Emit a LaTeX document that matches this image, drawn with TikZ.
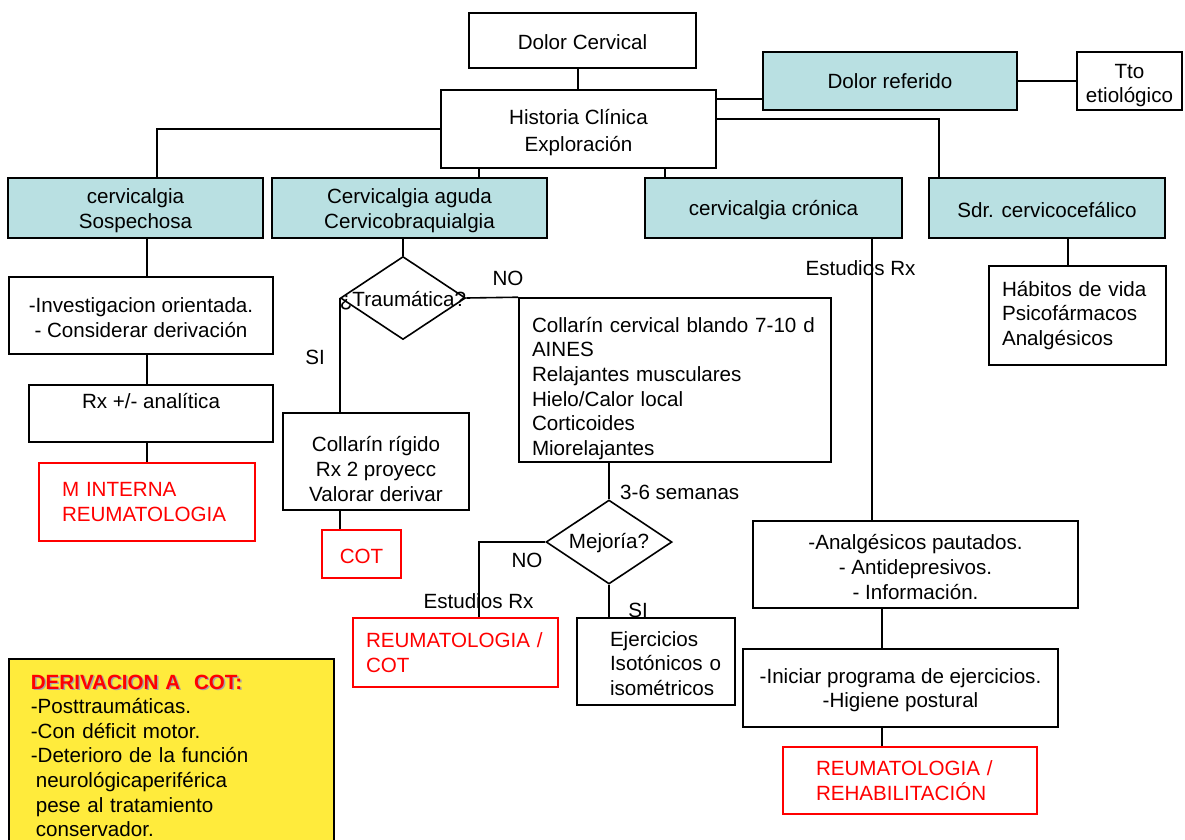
\documentclass[tikz,border=0pt]{standalone}
\usepackage{fontspec}
\setmainfont{Liberation Sans}
\usetikzlibrary{shapes.geometric,calc}
\definecolor{cblue}{RGB}{185,224,226}
\definecolor{cyel}{RGB}{255,235,60}
\definecolor{cred}{RGB}{255,0,0}
\begin{document}
\begin{tikzpicture}[x=1pt,y=-1pt,
  every node/.style={font=\fontsize{20.6}{24.6}\selectfont},
  box/.style={draw, line width=1.6pt, inner sep=0pt, align=center},
  bluebox/.style={box, fill=cblue},
  redbox/.style={draw=cred, line width=1.6pt, text=cred, inner sep=0pt, align=left},
  conn/.style={line width=1.6pt},
  lbl/.style={inner sep=0pt},
  dia/.style={draw, diamond, line width=1.6pt, inner sep=0pt}
]
\fill[white] (0,0) rectangle (1185,839);
\useasboundingbox (0,0) rectangle (1185,839);

% top
\node[box, minimum width=227, minimum height=55] (dc) at (582.5,40.5) {\rule{0pt}{18pt}Dolor Cervical};
\node[box, minimum width=275, minimum height=78] (hc) at (578.5,129) {\rule{0pt}{22pt}Historia Clínica\\[2pt]Exploración};
\node[bluebox, minimum width=254, minimum height=58] (dr) at (890,81) {Dolor referido};
\node[box, minimum width=105, minimum height=58] (tto) at (1129.5,81) {\rule{0pt}{23pt}Tto\\etiológico};

% second row
\node[bluebox, minimum width=255, minimum height=60] (sosp) at (135.5,208) {\rule{0pt}{20pt}cervicalgia\\Sospechosa};
\node[bluebox, minimum width=275, minimum height=60] (aguda) at (409.5,208) {\rule{0pt}{20pt}Cervicalgia aguda\\Cervicobraquialgia};
\node[bluebox, minimum width=257, minimum height=60] (cron) at (773.5,208) {\rule{0pt}{19pt}cervicalgia crónica};
\node[bluebox, minimum width=236, minimum height=60] (sdr) at (1047,208) {\rule{0pt}{19pt}Sdr. cervicocefálico};

% left column
\node[box, minimum width=264, minimum height=77] (inv) at (141,315.5) {\rule{0pt}{19pt}-Investigacion orientada.\\- Considerar derivación};
\node[box, minimum width=244, minimum height=57] (rx) at (151,413.5) {Rx +/- analítica\\\mbox{}};
\node[redbox, inner xsep=0pt, text width=216, minimum height=78] (mint) at (147,502) {\leftskip=23pt M INTERNA\\REUMATOLOGIA\par};

% acute branch
\node[dia, minimum width=125, minimum height=83] (trau) at (403,298) {};
\node[lbl] (trautxt) at ($(trau.center)+(0,3)$) {¿Traumática?};
\node[box, minimum width=186, minimum height=97] (colr) at (376,461.5) {\rule{0pt}{30pt}Collarín rígido\\Rx 2 proyecc\\Valorar derivar};
\node[redbox, align=center, minimum width=79, minimum height=48] (cot) at (361.5,554) {\rule{0pt}{19pt}COT};
\node[box, align=left, inner xsep=0pt, text width=312, minimum height=164] (colb) at (675,380) {\leftskip=13pt \rule{0pt}{32pt}Collarín cervical blando 7-10 d\\AINES\\Relajantes musculares\\Hielo/Calor local\\Corticoides\\Miorelajantes\par};
\node[dia, minimum width=126, minimum height=84] (mej) at (609,542) {};
\node[lbl] (mejtxt) at ($(mej.center)+(0,1)$) {Mejoría?};
\node[redbox, inner xsep=0pt, text width=205, minimum height=69] (rcot) at (455.5,652.5) {\leftskip=13pt REUMATOLOGIA /\\COT\par};
\node[box, align=left, inner xsep=0pt, text width=158, minimum height=87] (ejer) at (656,661.5) {\leftskip=33pt \rule{0pt}{19pt}Ejercicios\\Isotónicos o\\isométricos\par};

% right branches
\node[box, align=left, inner xsep=0pt, text width=177, minimum height=99] (hab) at (1077.5,315.5) {\leftskip=13pt Hábitos de vida\\Psicofármacos\\Analgésicos\par};
\node[box, minimum width=325, minimum height=87] (anal) at (915.5,564.5) {\rule{0pt}{20pt}-Analgésicos pautados.\\- Antidepresivos.\\- Información.};
\node[box, minimum width=315, minimum height=78] (inic) at (900.5,688) {\rule{0pt}{19pt}-Iniciar programa de ejercicios.\\-Higiene postural};
\node[redbox, inner xsep=0pt, text width=254, minimum height=67] (rreh) at (910,780.5) {\leftskip=33pt REUMATOLOGIA /\\REHABILITACIÓN\par};

% yellow note
\node[draw, line width=1.6pt, fill=cyel, anchor=north west, inner sep=0pt, text width=325, minimum height=194, align=left] (yel) at (8,658) {\leftskip=22pt {\bfseries\rlap{\hspace{1.5pt}\raisebox{-1.5pt}{\color{black!35}DERIVACION A\ \ COT:}}\color{cred}DERIVACION A\ \ COT:}\\-Posttraumáticas.\\-Con déficit motor.\\-Deterioro de la función\\\hspace*{5pt}neurológicaperiférica\\\hspace*{5pt}pese al tratamiento\\\hspace*{5pt}conservador.\par};

% labels
\node[lbl] (no1) at (508,278) {NO};
\node[lbl] (si1) at (315,357) {SI};
\node[lbl, anchor=west] (sem) at (620,492) {3-6 semanas};
\node[lbl] (no2) at (527,560) {NO};
\node[lbl] (si2) at (638,610) {SI};
\node[lbl] (er1) at (478.5,601) {Estudios Rx};
\node[lbl] (er2) at (860.5,268) {Estudios Rx};

% connectors
\coordinate (hcr1) at ($(hc.north east)+(0,10)$);
\coordinate (hcr2) at ($(hc.north east)+(0,30)$);
\draw[conn] ([xshift=-4.5]dc.south) -- ([xshift=-4.5]dc.south |- hc.north);
\draw[conn] (hc.west) -| ([xshift=21.5]sosp.north);
\draw[conn] ([xshift=-99.5]hc.south) -- ([xshift=-99.5]hc.south |- aguda.north);
\draw[conn] ([xshift=86.5]hc.south) -- ([xshift=86.5]hc.south |- cron.north);
\draw[conn] (hcr1) -- (hcr1 -| dr.west);
\draw[conn] (hcr2) -| ([xshift=-108]sdr.north);
\draw[conn] (dr.east) -- (tto.west);
\draw[conn] ([xshift=11.5]sosp.south) -- ([xshift=11.5]sosp.south |- inv.north);
\draw[conn] ([xshift=6]inv.south) -- ([xshift=6]inv.south |- rx.north);
\draw[conn] ([xshift=-4]rx.south) -- (mint.north);
\draw[conn] (trau.north |- aguda.south) -- (trau.north);
\draw[conn] (trau.east) -- (colb.north west);
\draw[conn] (trau.west) -- (trau.west |- colr.north);
\draw[conn] (trau.west |- colr.south) -- (trau.west |- cot.north);
\draw[conn] (mej.north |- colb.south) -- (mej.north);
\draw[conn] (mej.west) -| ([xshift=23.5]rcot.north);
\draw[conn] (mej.south) -- (mej.south |- ejer.north);
\draw[conn] ([xshift=98.5]cron.south) -- ([xshift=98.5]cron.south |- anal.north);
\draw[conn] ([xshift=-33.5]anal.south) -- ([xshift=-33.5]anal.south |- inic.north);
\draw[conn] ([xshift=-18.5]inic.south) -- ([xshift=-18.5]inic.south |- rreh.north);
\draw[conn] ([xshift=21]sdr.south) -- ([xshift=21]sdr.south |- hab.north);
\end{tikzpicture}
\end{document}
